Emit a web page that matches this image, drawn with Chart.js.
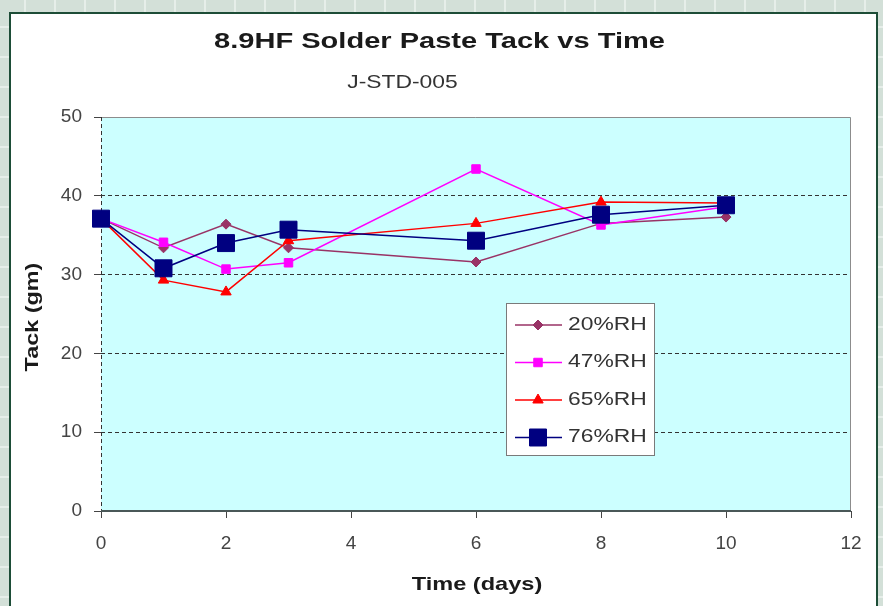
<!DOCTYPE html>
<html>
<head>
<meta charset="utf-8">
<script src="https://cdn.jsdelivr.net/npm/chart.js@4.4.1/dist/chart.umd.min.js"></script>
<style>
  html, body { margin: 0; padding: 0; }
  body {
    width: 883px; height: 606px; overflow: hidden;
    background-color: #d3e0d8;
    background-image:
      linear-gradient(to right, #e6eee9 2px, transparent 2px),
      linear-gradient(to bottom, #e6eee9 2px, transparent 2px);
    background-size: 30px 30px;
    background-position: 24px 26px;
    position: relative;
  }
  #frame {
    position: absolute; left: 9px; top: 12px;
    width: 865px; height: 600px;
    border: 2px solid #1d4d37;
    background: #ffffff;
  }
  canvas { display: block; }
</style>
</head>
<body>
<div id="frame"><canvas id="chart" width="865" height="592"></canvas></div>
<script>
// Time points (days)
const days = [0, 1, 2, 3, 6, 8, 10];
// Series names
const seriesLabels = ["20%RH", "47%RH", "65%RH", "76%RH"];
// Tack (gm) per series
const rh20 = [37.1, 33.4, 36.4, 33.4, 31.6, 36.5, 37.3];
const rh47 = [37.1, 34.1, 30.7, 31.5, 43.4, 36.3, 38.6];
const rh65 = [37.1, 29.3, 27.8, 34.3, 36.5, 39.2, 39.1];
const rh76 = [37.1, 30.8, 34.0, 35.7, 34.3, 37.6, 38.8];

const chartTitle = "8.9HF Solder Paste Tack vs Time";
const chartSubtitle = "J-STD-005";
const xTitle = "Time (days)";
const yTitle = "Tack (gm)";

const FONT = '"Liberation Sans", Arial, sans-serif';
Chart.defaults.font.family = FONT;

// marker look for each series
const seriesStyles = [
  { color: "#993366", pointStyle: "rectRot", radius: 5 },
  { color: "#ff00ff", pointStyle: "rect", radius: 6 },
  { color: "#ff0000", pointStyle: "triangle", radius: 6 },
  { color: "#000080", pointStyle: "rect", radius: 12 },
];

const toPoints = (vals) => vals.map((v, i) => ({ x: days[i], y: v }));
const allSeries = [rh20, rh47, rh65, rh76];

const datasets = allSeries.map((vals, i) => ({
  label: seriesLabels[i],
  data: toPoints(vals),
  borderColor: seriesStyles[i].color,
  backgroundColor: seriesStyles[i].color,
  borderWidth: 1.5,
  pointStyle: seriesStyles[i].pointStyle,
  pointRadius: seriesStyles[i].radius,
  pointBorderWidth: 1,
  pointBackgroundColor: seriesStyles[i].color,
  pointBorderColor: seriesStyles[i].color,
  tension: 0,
  clip: false,
  // last series on top
  order: allSeries.length - 1 - i,
}));

// draw horizontally stretched text (the original text is wide)
function wideText(ctx, text, x, y, font, color, sx, rot) {
  ctx.save();
  ctx.font = font;
  ctx.fillStyle = color;
  ctx.textAlign = "center";
  ctx.textBaseline = "middle";
  ctx.translate(x, y);
  if (rot) ctx.rotate(rot);
  ctx.scale(sx, 1);
  ctx.fillText(text, 0, 0);
  ctx.restore();
}

// Plot area background + frame
const plotArea = {
  id: "plotArea",
  beforeDraw(chart) {
    const { ctx, chartArea: a } = chart;
    ctx.save();
    ctx.fillStyle = "#ccffff";
    ctx.fillRect(a.left, a.top, a.right - a.left, a.bottom - a.top);
    ctx.restore();
  },
  beforeDatasetsDraw(chart) {
    const { ctx, chartArea: a } = chart;
    ctx.save();
    // top and right edges
    ctx.strokeStyle = "#8c8c8c";
    ctx.lineWidth = 1;
    ctx.beginPath();
    ctx.moveTo(a.left, a.top + 0.5);
    ctx.lineTo(a.right - 0.5, a.top + 0.5);
    ctx.lineTo(a.right - 0.5, a.bottom);
    ctx.stroke();
    // left axis, dashed
    ctx.strokeStyle = "#333";
    ctx.setLineDash([4, 3]);
    ctx.beginPath();
    ctx.moveTo(a.left + 0.5, a.top);
    ctx.lineTo(a.left + 0.5, a.bottom);
    ctx.stroke();
    // bottom axis
    ctx.setLineDash([]);
    ctx.strokeStyle = "#4a5858";
    ctx.lineWidth = 2;
    ctx.beginPath();
    ctx.moveTo(a.left, a.bottom);
    ctx.lineTo(a.right, a.bottom);
    ctx.stroke();
    ctx.restore();
  },
};

// Titles, axis titles and the boxed legend
const labelsPlugin = {
  id: "labelsPlugin",
  afterDraw(chart) {
    const { ctx, chartArea: a } = chart;
    const cx = (a.left + a.right) / 2;
    const cy = (a.top + a.bottom) / 2;
    wideText(ctx, chartTitle, chart.width / 2 - 4, 28, "bold 22px " + FONT, "#1a1a1a", 1.32);
    wideText(ctx, chartSubtitle, chart.width / 2 - 41, 69, "18px " + FONT, "#333", 1.27);
    wideText(ctx, xTitle, cx + 1, a.bottom + 74, "bold 19px " + FONT, "#1a1a1a", 1.24);
    wideText(ctx, yTitle, 22, cy + 3, "bold 18px " + FONT, "#1a1a1a", 1.3, -Math.PI / 2);

    // legend box
    const bx = a.left + 405, by = a.top + 186, bw = 148, bh = 152;
    ctx.save();
    ctx.fillStyle = "#ffffff";
    ctx.fillRect(bx, by, bw, bh);
    ctx.strokeStyle = "#7a7a7a";
    ctx.lineWidth = 1;
    ctx.strokeRect(bx + 0.5, by + 0.5, bw, bh);
    chart.data.datasets.forEach((ds, i) => {
      const ry = by + 22 + i * 37.5;
      ctx.strokeStyle = ds.borderColor;
      ctx.lineWidth = 1.5;
      ctx.beginPath();
      ctx.moveTo(bx + 9, ry);
      ctx.lineTo(bx + 56, ry);
      ctx.stroke();
      ctx.fillStyle = ds.pointBackgroundColor;
      ctx.strokeStyle = ds.pointBorderColor;
      ctx.lineWidth = 1;
      Chart.helpers.drawPoint(ctx, {
        pointStyle: ds.pointStyle, radius: ds.pointRadius, rotation: 0, borderWidth: 1,
      }, bx + 32, ry);
      ctx.save();
      ctx.font = "18px " + FONT;
      ctx.fillStyle = "#333";
      ctx.textAlign = "left";
      ctx.textBaseline = "middle";
      ctx.translate(bx + 62, ry);
      ctx.scale(1.27, 1);
      ctx.fillText(ds.label, 0, 0);
      ctx.restore();
    });
    ctx.restore();
  },
};

new Chart(document.getElementById("chart"), {
  type: "line",
  data: { datasets: datasets },
  plugins: [plotArea, labelsPlugin],
  options: {
    responsive: false,
    animation: false,
    devicePixelRatio: 1,
    layout: { padding: { top: 103, right: 25, bottom: 0, left: 0 } },
    plugins: {
      legend: { display: false },
      tooltip: { enabled: false },
      title: { display: false },
    },
    scales: {
      x: {
        type: "linear",
        min: 0,
        max: 12,
        afterFit: (s) => { s.height = 95; },
        ticks: { stepSize: 2, padding: 14, color: "#444", font: { size: 19 } },
        grid: { drawOnChartArea: false, drawTicks: true, tickLength: 7, tickColor: "#444", color: "#444" },
        border: { display: false },
      },
      y: {
        min: 0,
        max: 50,
        afterFit: (s) => { s.width = 90; },
        ticks: { stepSize: 10, padding: 12, color: "#444", font: { size: 19 } },
        grid: {
          color: (c) => (c.tick && (c.tick.value === 0 || c.tick.value === 50)) ? "rgba(0,0,0,0)" : "#333",
          lineWidth: 1,
          tickLength: 7,
          tickColor: "#444",
          tickBorderDash: [],
        },
        border: { display: false, dash: [4, 3] },
      },
    },
  },
});
</script>
</body>
</html>
